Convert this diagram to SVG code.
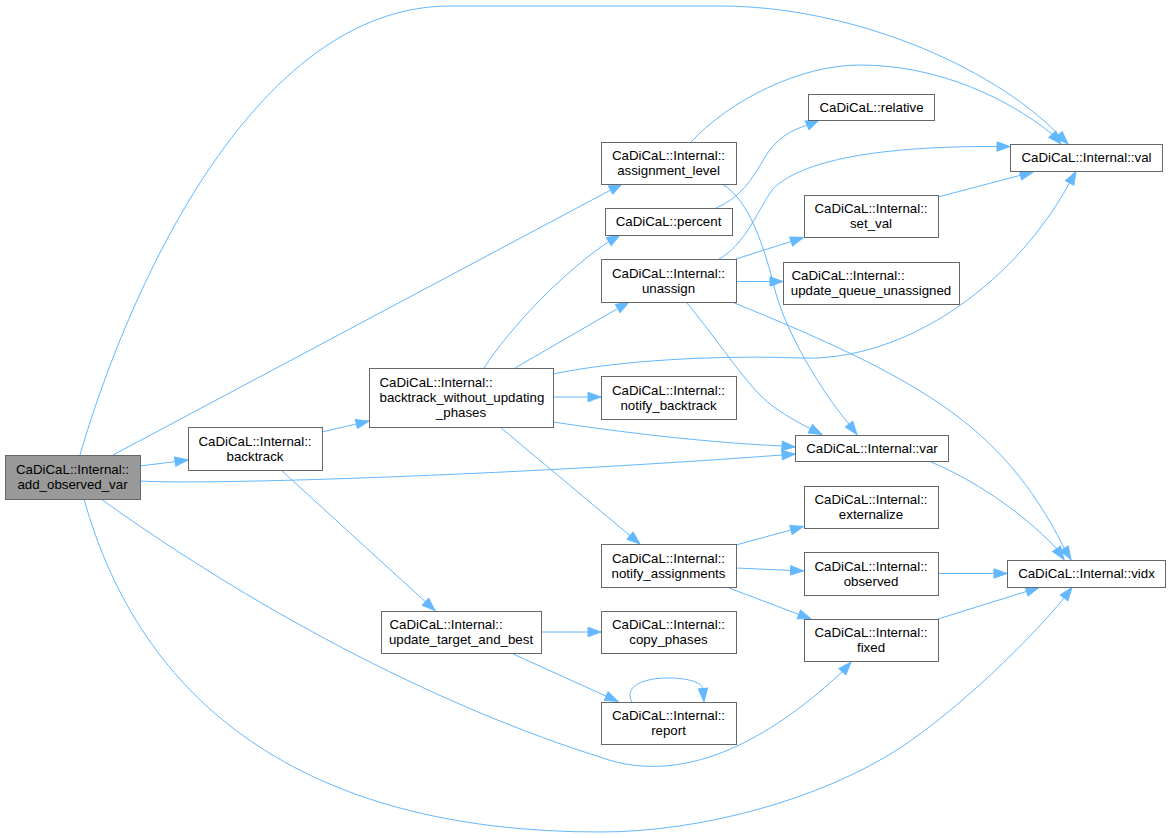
<svg xmlns="http://www.w3.org/2000/svg" width="1171" height="838" viewBox="0 0 1171 838">
<style>
.n rect{fill:#fff;stroke:#666;stroke-width:1}
.root rect{fill:#999}
text{font-family:"Liberation Sans",Arial,Helvetica,sans-serif;font-size:13.3px;fill:#000}
.c{text-anchor:middle}
.e path{fill:none;stroke:#63b8ff;stroke-width:1;marker-end:url(#ah)}
</style>
<defs>
<marker id="ah" markerWidth="16" markerHeight="12" refX="13" refY="6" viewBox="0 0 16 12" orient="auto" markerUnits="userSpaceOnUse" overflow="visible">
<path d="M0,1.3 L13,6 L0,10.7 z" fill="#63b8ff" stroke="#63b8ff" stroke-width="1"/>
</marker>
</defs>
<rect width="1171" height="838" fill="#fff"/>
<g id="connectors" class="e">
<path d="M80,455 C125,300 250,6 450,6 L720,6 C850,6 990,65 1058,134 L1068,144"/>
<path d="M113,455 L622,184"/>
<path d="M140,466 L188,460"/>
<path d="M140,481 C200,485 500,476 782,455 L795,454"/>
<path d="M101,499 C270,620 450,710 600,757 C690,790 780,730 843,671 L851,662"/>
<path d="M84,499 C140,700 300,832 600,832 C700,832 820,800 900,748 C960,708 1030,640 1064,598 L1072,587.5"/>
<path d="M322,432 L369,421"/>
<path d="M281,470 L435,610.5"/>
<path d="M484,368 C510,328 560,275 608,242 L620,235"/>
<path d="M515,368 L629,302"/>
<path d="M553,397 L601,397"/>
<path d="M553,374 C620,360 720,355 800,358 C900,362 1010,290 1069,184 L1076,171.5"/>
<path d="M553,422 C620,432 700,442 782,446 L795,447"/>
<path d="M500,427 L640,544"/>
<path d="M691,142 C730,100 800,65 860,65 C940,65 1010,100 1052,134 L1061,144"/>
<path d="M722,184 C750,200 765,250 775,290 C785,330 820,390 849,424 L857,434.5"/>
<path d="M716,208 C740,198 752,180 765,157 C775,140 790,130 808,125 L819,120"/>
<path d="M736,259 L803.5,237.5"/>
<path d="M736,281.5 L783,281.5"/>
<path d="M719,259 C745,245 758,210 772,190 C800,160 880,146 997,146.5 L1010,146.5"/>
<path d="M686,302 C710,330 740,375 760,395 C775,410 795,421 811,429 L822,434.5"/>
<path d="M732,302 C820,338 920,380 980,435 C1020,470 1048,515 1064,548 L1071,559.5"/>
<path d="M938,197 L1033,172"/>
<path d="M931,462 C970,478 1020,510 1056,548 L1064,559.5"/>
<path d="M736,545 L803.5,526.5"/>
<path d="M736,568 L803.5,571"/>
<path d="M729,588 L811,619"/>
<path d="M938,573.5 L1007,573.5"/>
<path d="M938,619 L1039,587.5"/>
<path d="M541,632 L601,632"/>
<path d="M513,654 L618,701.5"/>
<path d="M632,702 C624,688 640,678 668,678 C690,678 702,683 703,689 L704,701.5"/>
</g>
<g id="add_observed_var" class="n root"><rect x="5.5" y="455.5" width="135" height="44"/><text class="c" x="72.5" y="474">CaDiCaL::Internal::</text><text class="c" x="72.5" y="489">add_observed_var</text></g>
<g id="backtrack" class="n"><rect x="188.5" y="427.5" width="134" height="43"/><text class="c" x="255" y="445.5">CaDiCaL::Internal::</text><text class="c" x="255" y="460.5">backtrack</text></g>
<g id="backtrack_without_updating_phases" class="n"><rect x="369.5" y="368.5" width="184" height="59"/><text x="379.5" y="387">CaDiCaL::Internal::</text><text x="379.5" y="402">backtrack_without_updating</text><text class="c" x="461" y="417">_phases</text></g>
<g id="assignment_level" class="n"><rect x="601.5" y="142.5" width="135" height="42"/><text class="c" x="668.5" y="160">CaDiCaL::Internal::</text><text class="c" x="668.5" y="175">assignment_level</text></g>
<g id="percent" class="n"><rect x="605.5" y="208.5" width="127" height="27"/><text class="c" x="668.5" y="226">CaDiCaL::percent</text></g>
<g id="unassign" class="n"><rect x="601.5" y="259.5" width="135" height="43"/><text class="c" x="668.5" y="277.5">CaDiCaL::Internal::</text><text class="c" x="668.5" y="292.5">unassign</text></g>
<g id="notify_backtrack" class="n"><rect x="601.5" y="376.5" width="135" height="43"/><text class="c" x="668.5" y="394.5">CaDiCaL::Internal::</text><text class="c" x="668.5" y="409.5">notify_backtrack</text></g>
<g id="notify_assignments" class="n"><rect x="601.5" y="544.5" width="135" height="43"/><text class="c" x="668.5" y="562.5">CaDiCaL::Internal::</text><text class="c" x="668.5" y="577.5">notify_assignments</text></g>
<g id="update_target_and_best" class="n"><rect x="381.5" y="611.5" width="160" height="42"/><text x="389.5" y="629">CaDiCaL::Internal::</text><text class="c" x="461" y="644">update_target_and_best</text></g>
<g id="copy_phases" class="n"><rect x="601.5" y="611.5" width="135" height="42"/><text class="c" x="668.5" y="629">CaDiCaL::Internal::</text><text class="c" x="668.5" y="644">copy_phases</text></g>
<g id="report" class="n"><rect x="601.5" y="702.5" width="135" height="42"/><text class="c" x="668.5" y="720">CaDiCaL::Internal::</text><text class="c" x="668.5" y="735">report</text></g>
<g id="relative" class="n"><rect x="808.5" y="94.5" width="126" height="26"/><text class="c" x="871.5" y="111.5">CaDiCaL::relative</text></g>
<g id="set_val" class="n"><rect x="804.5" y="195.5" width="134" height="42"/><text class="c" x="871" y="213">CaDiCaL::Internal::</text><text class="c" x="871" y="228">set_val</text></g>
<g id="update_queue_unassigned" class="n"><rect x="783.5" y="262.5" width="176" height="42"/><text x="791.5" y="280">CaDiCaL::Internal::</text><text class="c" x="871" y="295">update_queue_unassigned</text></g>
<g id="var" class="n"><rect x="795.5" y="435.5" width="153" height="26"/><text class="c" x="872" y="452.5">CaDiCaL::Internal::var</text></g>
<g id="externalize" class="n"><rect x="804.5" y="486.5" width="134" height="42"/><text class="c" x="871" y="504">CaDiCaL::Internal::</text><text class="c" x="871" y="519">externalize</text></g>
<g id="observed" class="n"><rect x="804.5" y="552.5" width="134" height="43"/><text class="c" x="871" y="570.5">CaDiCaL::Internal::</text><text class="c" x="871" y="585.5">observed</text></g>
<g id="fixed" class="n"><rect x="804.5" y="619.5" width="134" height="42"/><text class="c" x="871" y="637">CaDiCaL::Internal::</text><text class="c" x="871" y="652">fixed</text></g>
<g id="val" class="n"><rect x="1010.5" y="144.5" width="152" height="27"/><text class="c" x="1086.5" y="162">CaDiCaL::Internal::val</text></g>
<g id="vidx" class="n"><rect x="1007.5" y="560.5" width="158" height="27"/><text class="c" x="1086.5" y="578">CaDiCaL::Internal::vidx</text></g>
</svg>
